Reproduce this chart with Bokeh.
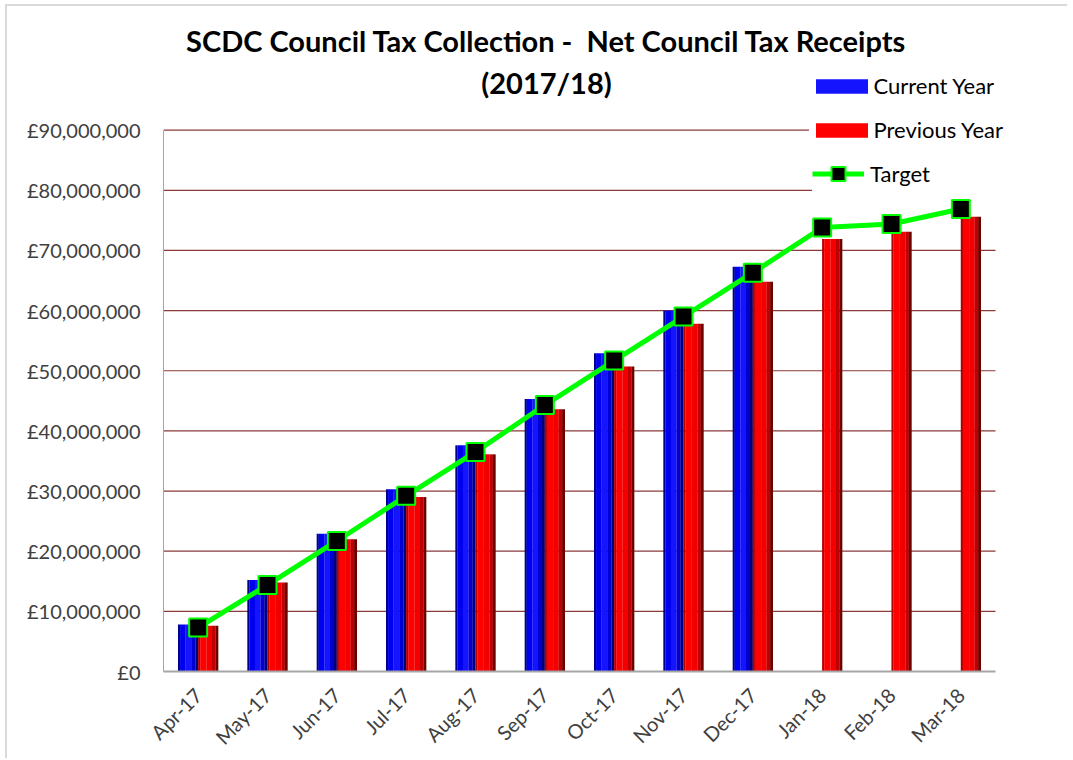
from bokeh.plotting import figure
from bokeh.models import (ColumnDataSource, Range1d, CustomJSTickFormatter,
                          FixedTicker, Legend, LegendItem, Label)
from bokeh.transform import dodge
from bokeh.embed import file_html
from bokeh.resources import INLINE

months = ["Apr-17", "May-17", "Jun-17", "Jul-17", "Aug-17", "Sep-17",
          "Oct-17", "Nov-17", "Dec-17", "Jan-18", "Feb-18", "Mar-18"]
current_year = [7.8e6, 15.2e6, 22.9e6, 30.3e6, 37.6e6, 45.3e6, 52.9e6, 60.0e6, 67.3e6]
previous_year = [7.6e6, 14.8e6, 22.0e6, 29.0e6, 36.1e6, 43.6e6, 50.7e6, 57.8e6, 64.8e6,
                 71.9e6, 73.1e6, 75.6e6]
target = [7.3e6, 14.4e6, 21.7e6, 29.2e6, 36.5e6, 44.3e6, 51.7e6, 59.0e6, 66.3e6,
          73.8e6, 74.4e6, 76.9e6]
y_ticks = [i * 10_000_000 for i in range(10)]
title_line1 = "SCDC Council Tax Collection -\u00a0 Net Council Tax Receipts"
title_line2 = "(2017/18)"

FONT = "Lato"
n = len(months)
xpos = [i + 0.5 for i in range(n)]

cur_src = ColumnDataSource(dict(x=xpos[:len(current_year)], val=current_year))
prev_src = ColumnDataSource(dict(x=xpos, val=previous_year))
tgt_src = ColumnDataSource(dict(x=xpos, val=target))
grid_src = ColumnDataSource(dict(y=y_ticks[1:], x0=[0] * (len(y_ticks) - 1),
                                 x1=[n] * (len(y_ticks) - 1)))

# frame: page x 163..1015, y 20..673 ; months occupy 163..995 ; 0..90M maps to 673..130
X_END = n * (1015 - 163) / (995 - 163)
Y_TOP = 653 * 90_000_000 / 543

p = figure(width=1062, height=754, x_range=Range1d(0, X_END),
           y_range=Range1d(0, Y_TOP), output_backend="svg", toolbar_location=None,
           min_border_left=156, min_border_right=54, min_border_top=14, min_border_bottom=87)
p.margin = (6, 0, 0, 7)
p.styles = {"box-shadow": "-2px -2px 0 0 #d9d9d9"}
p.outline_line_color = None
p.background_fill_color = "white"
p.border_fill_color = "white"
p.xgrid.grid_line_color = None
p.ygrid.grid_line_color = None

# gridlines
p.segment(x0="x0", x1="x1", y0="y", y1="y", source=grid_src, line_color="#8b3a3a", line_width=1.2)

# Bars as shaded strips (cylinder look)
blue_edges = [-0.29, -0.26, -0.18, -0.10, -0.04, 0.0]
blue_cols = ["#00008c", "#0000f0", "#1414ff", "#0000d0", "#00007a"]
red_edges = [0.0, 0.03, 0.12, 0.20, 0.25, 0.29]
red_cols = ["#b00000", "#ff0000", "#f20000", "#c00000", "#6e0000"]

blue_main = None
for i, c in enumerate(blue_cols):
    a, b = blue_edges[i], blue_edges[i + 1]
    r = p.vbar(x=dodge("x", (a + b) / 2), top="val", width=(b - a) + 0.002,
               source=cur_src, fill_color=c, line_color=None)
    if i == 2:
        blue_main = r
red_main = None
for i, c in enumerate(red_cols):
    a, b = red_edges[i], red_edges[i + 1]
    r = p.vbar(x=dodge("x", (a + b) / 2), top="val", width=(b - a) + 0.002,
               source=prev_src, fill_color=c, line_color=None)
    if i == 1:
        red_main = r

tl = p.line(x="x", y="val", source=tgt_src, line_color="#00ff00", line_width=5)
ts = p.scatter(x="x", y="val", source=tgt_src, marker="square", size=18,
               fill_color="#000000", line_color="#00ff00", line_width=2)

# Axes
p.yaxis.ticker = FixedTicker(ticks=y_ticks)
p.yaxis.bounds = (0, 90_000_000)
p.yaxis.formatter = CustomJSTickFormatter(code="return '\u00a3' + Math.round(tick).toLocaleString('en-GB');")
p.yaxis.axis_line_color = "#a6a6a6"
p.yaxis.major_tick_line_color = None
p.yaxis.minor_tick_line_color = None
p.yaxis.major_tick_out = 0
p.yaxis.major_label_text_font = FONT
p.yaxis.major_label_text_font_size = "20px"
p.yaxis.major_label_text_color = "#404040"
p.yaxis.major_label_standoff = 23

p.xaxis.ticker = FixedTicker(ticks=xpos)
p.xaxis.major_label_overrides = {x: m for x, m in zip(xpos, months)}
p.xaxis.bounds = (0, n)
p.xaxis.axis_line_color = "#a6a6a6"
p.xaxis.axis_line_width = 2
p.xaxis.major_tick_line_color = None
p.xaxis.minor_tick_line_color = None
p.xaxis.major_tick_out = 0
p.xaxis.major_label_orientation = 0.785398
p.xaxis.major_label_text_font = FONT
p.xaxis.major_label_text_font_size = "20px"
p.xaxis.major_label_text_color = "#404040"
p.xaxis.major_label_standoff = 20

# Title lines as labels (screen units relative to the frame)
p.add_layout(Label(x=383, y=631, x_units="screen", y_units="screen", text=title_line1,
                   text_align="center", text_baseline="alphabetic", text_font=FONT,
                   text_font_size="29px", text_font_style="bold", text_color="#000000"))
p.add_layout(Label(x=383, y=589, x_units="screen", y_units="screen", text=title_line2,
                   text_align="center", text_baseline="alphabetic", text_font=FONT,
                   text_font_size="29px", text_font_style="bold", text_color="#000000"))

legend_bars = Legend(items=[LegendItem(label="Current Year", renderers=[blue_main]),
                            LegendItem(label="Previous Year", renderers=[red_main])],
                     location=(645.5, 528), orientation="vertical",
                     glyph_width=65, glyph_height=18, label_height=26, spacing=17, padding=10,
                     label_standoff=0, label_text_font=FONT, label_text_font_size="22px",
                     label_text_color="#000000", border_line_color=None,
                     background_fill_color="white", background_fill_alpha=1.0, margin=0)
legend_target = Legend(items=[LegendItem(label="Target", renderers=[tl, ts])],
                       location=(649, 480), orientation="vertical",
                       glyph_width=52, glyph_height=35, label_height=24, label_width=150,
                       spacing=0, padding=13,
                       label_standoff=6, label_text_font=FONT, label_text_font_size="22px",
                       label_text_color="#000000", border_line_color=None,
                       background_fill_color="white", background_fill_alpha=1.0, margin=0)
p.add_layout(legend_bars, "center")
p.add_layout(legend_target, "center")

open("out.html", "w").write(file_html(p, INLINE))
